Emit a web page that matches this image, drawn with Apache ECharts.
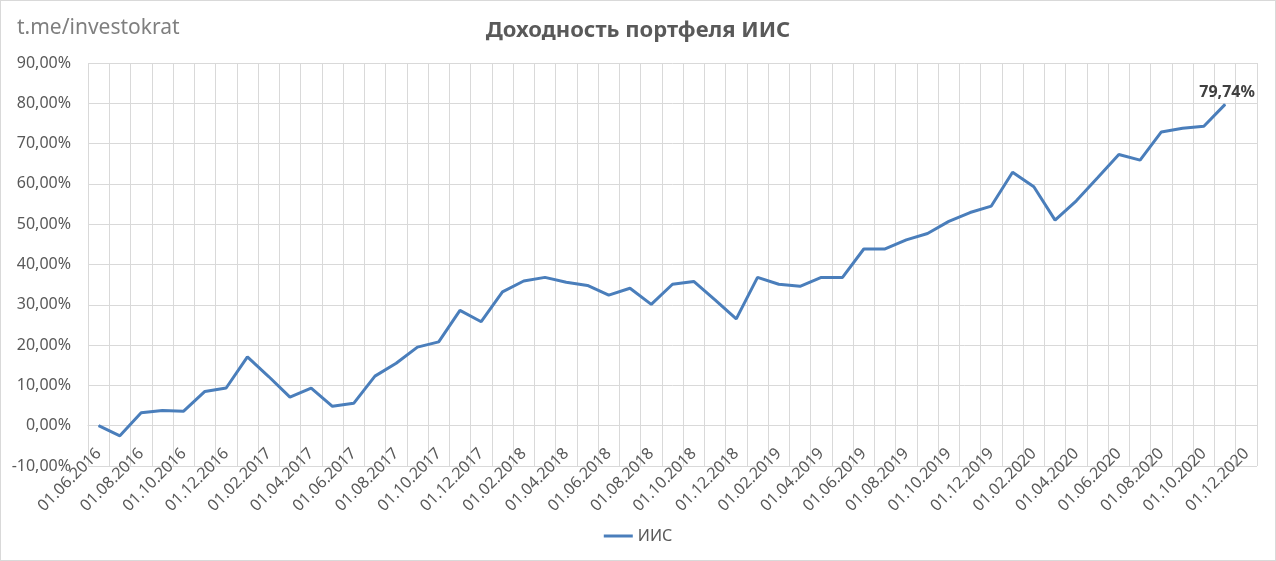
<!DOCTYPE html>
<html>
<head>
<meta charset="utf-8">
<script src="https://cdn.jsdelivr.net/npm/echarts@6/dist/echarts.min.js"></script>
<style>
html,body{margin:0;padding:0;background:#fff;}
#wrap{position:relative;width:1276px;height:561px;}
#chart{position:absolute;left:0;top:0;width:1276px;height:561px;}
#frame{position:absolute;left:0;top:0;width:1276px;height:561px;box-sizing:border-box;border:1px solid #d9d9d9;pointer-events:none;}
</style>
</head>
<body>
<div id="wrap"><div id="chart"></div><div id="frame"></div></div>
<script>
const categories = [
 '01.06.2016','01.07.2016','01.08.2016','01.09.2016','01.10.2016','01.11.2016','01.12.2016',
 '01.01.2017','01.02.2017','01.03.2017','01.04.2017','01.05.2017','01.06.2017','01.07.2017','01.08.2017','01.09.2017','01.10.2017','01.11.2017','01.12.2017',
 '01.01.2018','01.02.2018','01.03.2018','01.04.2018','01.05.2018','01.06.2018','01.07.2018','01.08.2018','01.09.2018','01.10.2018','01.11.2018','01.12.2018',
 '01.01.2019','01.02.2019','01.03.2019','01.04.2019','01.05.2019','01.06.2019','01.07.2019','01.08.2019','01.09.2019','01.10.2019','01.11.2019','01.12.2019',
 '01.01.2020','01.02.2020','01.03.2020','01.04.2020','01.05.2020','01.06.2020','01.07.2020','01.08.2020','01.09.2020','01.10.2020','01.11.2020','01.12.2020'
];
const iisValues = [
 0.0, -2.5, 3.2, 3.8, 3.6, 8.5, 9.35,
 17.1, 12.2, 7.1, 9.35, 4.8, 5.55, 12.3, 15.5, 19.5, 20.8, 28.6, 25.8,
 33.2, 35.9, 36.8, 35.6, 34.8, 32.4, 34.1, 30.1, 35.1, 35.8, 31.2, 26.5,
 36.8, 35.1, 34.6, 36.8, 36.8, 43.85, 43.85, 46.1, 47.7, 50.7, 52.9, 54.5,
 62.9, 59.3, 51.0, 55.8, 61.5, 67.3, 65.9, 72.9, 73.8, 74.3, 79.74
];
const seriesName = 'ИИС';
const titleText = 'Доходность портфеля ИИС';
const watermark = 't.me/investokrat';

const fmt = v => v.toFixed(2).replace('.', ',') + '%';
const lastIdx = iisValues.length - 1;
const seriesData = iisValues.map((v, i) => i === lastIdx ? {
  value: v,
  label: {show: true, position: 'top', formatter: p => fmt(p.value), fontWeight: 'bold', fontSize: 16, color: '#404040', fontFamily: 'Noto Sans', offset: [2, 2]}
} : v);

const chart = echarts.init(document.getElementById('chart'), null, {renderer: 'canvas'});
chart.setOption({
  animation: false,
  backgroundColor: '#fff',
  title: [
    {text: titleText, left: 'center', top: 15, textStyle: {fontFamily: 'Noto Sans', fontSize: 22, fontWeight: 'bold', color: '#595959'}},
    {text: watermark, left: 12, top: 13, textStyle: {fontFamily: 'Noto Sans', fontSize: 21, fontWeight: 'normal', color: '#7f7f7f'}}
  ],
  legend: {
    bottom: 12, left: 'center',
    data: [seriesName],
    icon: 'rect', itemWidth: 29, itemHeight: 3, itemGap: 4,
    textStyle: {fontFamily: 'Noto Sans', fontSize: 16, color: '#595959'}
  },
  grid: {left: 88, right: 19, top: 63, bottom: 95, containLabel: false},
  xAxis: {
    type: 'category',
    data: categories,
    boundaryGap: true,
    axisLine: {show: true, lineStyle: {color: '#d9d9d9'}},
    axisTick: {show: false},
    axisLabel: {interval: 1, rotate: 45, fontFamily: 'Noto Sans', fontSize: 16, color: '#595959', margin: -15},
    splitLine: {show: true, interval: 0, lineStyle: {color: '#d9d9d9', width: 1}}
  },
  yAxis: {
    type: 'value',
    min: -10, max: 90, interval: 10,
    axisLine: {show: false},
    axisTick: {show: false},
    axisLabel: {formatter: fmt, fontFamily: 'Noto Sans', fontSize: 16, color: '#595959', margin: 17},
    splitLine: {show: true, lineStyle: {color: '#d9d9d9', width: 1}}
  },
  series: [{
    name: seriesName,
    type: 'line',
    data: seriesData,
    symbol: 'circle',
    symbolSize: 1,
    showSymbol: true,
    showAllSymbol: true,
    lineStyle: {color: '#4a7ebb', width: 3},
    itemStyle: {color: '#4a7ebb'}
  }]
});
</script>
</body>
</html>
